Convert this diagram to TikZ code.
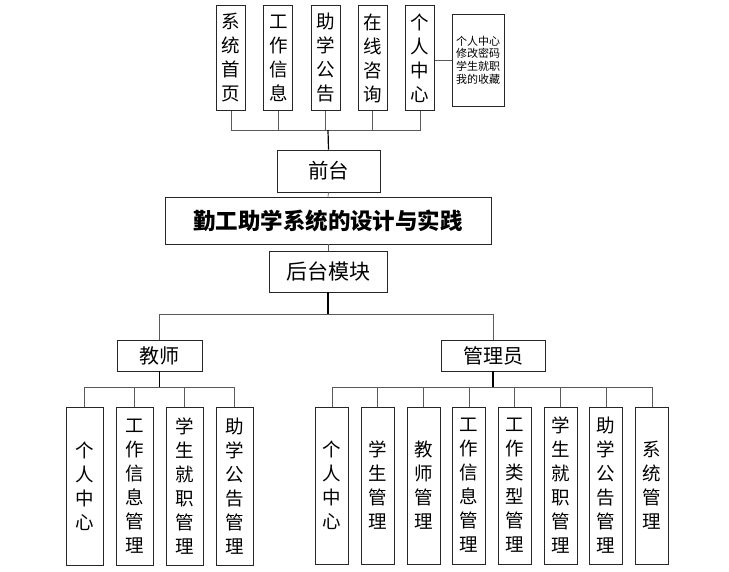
\documentclass[tikz,border=0pt]{standalone}
\usepackage{fontspec}
\setmainfont{Noto Sans CJK SC}
\definecolor{linegray}{RGB}{90, 90, 90}
\usepackage{tikz}
\usetikzlibrary{positioning}

\begin{document}
\begin{tikzpicture}[x=1pt, y=-1pt,
  box/.style={draw=black!85, line width=0.8pt, inner sep=0pt, align=center},
  topbox/.style={box, minimum width=29, minimum height=105, font=\fontsize{18.5}{24}\selectfont},
  tchbox/.style={box, minimum width=37, minimum height=158, font=\fontsize{18.5}{24}\selectfont},
  admbox/.style={box, minimum width=33, minimum height=157, font=\fontsize{18.5}{24}\selectfont},
  link/.style={draw=linegray, line width=0.7pt},
  stem/.style={draw=black, line width=1.2pt}]
  \useasboundingbox (0,0) rectangle (729,572);

  % front end
  \foreach \txt [count=\i] in {系\\统\\首\\页, 工\\作\\信\\息, 助\\学\\公\\告, 在\\线\\咨\\询, 个\\人\\中\\心}
    \node[topbox] (f\i) at ({231+47.25*(\i-1)}, 58) {\txt};
  \node[box, minimum width=52, minimum height=92, font=\fontsize{11}{12.7}\selectfont] (fsub) at (478, 60)
    {个人中心\\修改密码\\学生就职\\我的收藏};
  \node[box, minimum width=103, minimum height=42, font=\fontsize{20.5}{24}\selectfont] (qiantai) at (328.5, 171) {前台};

  % title and back end
  \node[box, minimum width=326, minimum height=47, font=\fontsize{22.5}{26}\selectfont\bfseries] (title) at (328, 220.5)
    {勤工助学系统的设计与实践};
  \node[box, minimum width=118, minimum height=41, font=\fontsize{21}{24}\selectfont] (houtai) at (328, 271.5) {后台模块};
  \node[box, minimum width=85, minimum height=31, font=\fontsize{20}{24}\selectfont] (teacher) at (159.5, 355.5) {教师};
  \node[box, minimum width=104, minimum height=31, font=\fontsize{20}{24}\selectfont] (admin) at (493, 355.5) {管理员};

  \foreach \txt [count=\i] in {个\\人\\中\\心, 工\\作\\信\\息\\管\\理, 学\\生\\就\\职\\管\\理, 助\\学\\公\\告\\管\\理}
    \node[tchbox] (t\i) at ({84.5+50*(\i-1)}, 486) {\txt};
  \foreach \txt [count=\i] in {个\\人\\中\\心, 学\\生\\管\\理, 教\\师\\管\\理, 工\\作\\信\\息\\管\\理,
                               工\\作\\类\\型\\管\\理, 学\\生\\就\\职\\管\\理, 助\\学\\公\\告\\管\\理, 系\\统\\管\\理}
    \node[admbox] (a\i) at ({332+45.7*(\i-1)}, 485.5) {\txt};

  % connectors
  \coordinate (fbus) at (328, 130);
  \foreach \i in {1,...,5}
    \draw[link] (f\i.south) |- (fbus);
  \draw[stem] (fbus) -- (qiantai.north);
  \draw[link] (f5.east |- fsub.west) -- (fsub.west);
  \draw[link] (qiantai.south) -- (title.north);
  \draw[link] (title.south) -- (houtai.north);

  \coordinate (bbus) at (328, 314);
  \draw[stem] (houtai.south) -- (bbus);
  \draw[link] (bbus) -| (teacher.north);
  \draw[link] (bbus) -| (admin.north);

  \coordinate (tbus) at (159.5, 387);
  \draw[stem] (teacher.south) -- (tbus);
  \foreach \i in {1,...,4}
    \draw[link] (tbus) -| (t\i.north);

  \coordinate (abus) at (493, 387);
  \draw[stem] (admin.south) -- (abus);
  \foreach \i in {1,...,8}
    \draw[link] (abus) -| (a\i.north);
\end{tikzpicture}
\end{document}
